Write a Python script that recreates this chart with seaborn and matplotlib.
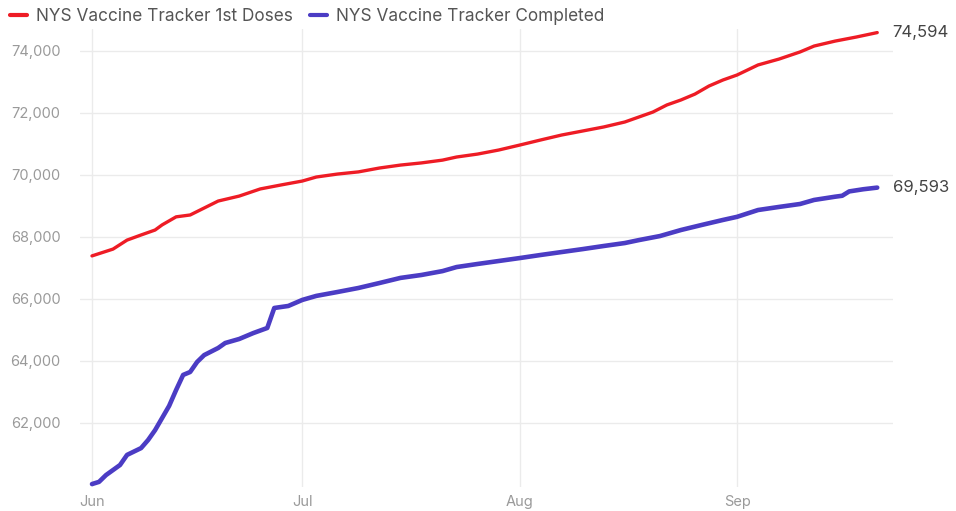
import matplotlib
matplotlib.use("Agg")
import matplotlib.pyplot as plt
import matplotlib.dates as mdates
import seaborn as sns
import pandas as pd
import numpy as np
from matplotlib.lines import Line2D

first_dates = ["2021-06-01", "2021-06-04", "2021-06-06", "2021-06-08", "2021-06-10", "2021-06-11",
               "2021-06-13", "2021-06-15", "2021-06-17", "2021-06-19", "2021-06-22", "2021-06-25",
               "2021-06-28", "2021-07-01", "2021-07-03", "2021-07-06", "2021-07-09", "2021-07-12",
               "2021-07-15", "2021-07-18", "2021-07-21", "2021-07-23", "2021-07-26", "2021-07-29",
               "2021-08-01", "2021-08-04", "2021-08-07", "2021-08-10", "2021-08-13", "2021-08-16",
               "2021-08-18", "2021-08-20", "2021-08-22", "2021-08-24", "2021-08-26", "2021-08-28",
               "2021-08-30", "2021-09-01", "2021-09-04", "2021-09-07", "2021-09-10", "2021-09-12",
               "2021-09-15", "2021-09-18", "2021-09-21"]
first_doses = [67390, 67610, 67900, 68065, 68225, 68390,
               68650, 68710, 68935, 69160, 69320, 69550,
               69680, 69805, 69935, 70030, 70100, 70225,
               70320, 70390, 70480, 70580, 70675, 70805,
               70965, 71130, 71290, 71420, 71550, 71710,
               71870, 72030, 72260, 72420, 72610, 72870,
               73065, 73225, 73550, 73740, 73970, 74160,
               74320, 74450, 74594]

comp_dates = ["2021-06-01", "2021-06-02", "2021-06-03", "2021-06-05", "2021-06-06", "2021-06-08",
              "2021-06-09", "2021-06-10", "2021-06-11", "2021-06-12", "2021-06-13", "2021-06-14",
              "2021-06-15", "2021-06-16", "2021-06-17", "2021-06-19", "2021-06-20", "2021-06-22",
              "2021-06-24", "2021-06-26", "2021-06-27", "2021-06-29", "2021-07-01", "2021-07-03",
              "2021-07-06", "2021-07-09", "2021-07-12", "2021-07-15", "2021-07-18", "2021-07-21",
              "2021-07-23", "2021-07-26", "2021-07-29", "2021-08-01", "2021-08-04", "2021-08-07",
              "2021-08-10", "2021-08-13", "2021-08-16", "2021-08-18", "2021-08-21", "2021-08-24",
              "2021-08-27", "2021-08-30", "2021-09-01", "2021-09-04", "2021-09-07", "2021-09-10",
              "2021-09-12", "2021-09-15", "2021-09-16", "2021-09-17", "2021-09-19", "2021-09-21"]
completed = [60030, 60100, 60320, 60645, 60970, 61190,
             61450, 61770, 62160, 62550, 63065, 63550,
             63645, 63970, 64190, 64420, 64580, 64710,
             64900, 65065, 65710, 65775, 65970, 66100,
             66225, 66355, 66515, 66680, 66775, 66900,
             67030, 67130, 67225, 67320, 67420, 67515,
             67610, 67710, 67805, 67900, 68030, 68225,
             68390, 68550, 68650, 68870, 68970, 69065,
             69195, 69300, 69330, 69470, 69540, 69593]

series_names = ["NYS Vaccine Tracker 1st Doses", "NYS Vaccine Tracker Completed"]
series_colors = ["#ee1c25", "#4b3cc4"]
y_ticks = [62000, 64000, 66000, 68000, 70000, 72000, 74000]
month_ticks = ["2021-06-01", "2021-07-01", "2021-08-01", "2021-09-01"]
month_labels = ["Jun", "Jul", "Aug", "Sep"]

df = pd.concat([
    pd.DataFrame({"date": pd.to_datetime(first_dates), "value": first_doses, "series": series_names[0]}),
    pd.DataFrame({"date": pd.to_datetime(comp_dates), "value": completed, "series": series_names[1]}),
])

sns.set_style("white")
plt.rcParams["font.family"] = ["Inter", "DejaVu Sans"]

fig = plt.figure(figsize=(9.56, 5.11), dpi=100)
ax = fig.add_axes([80 / 956, 1 - 487 / 511, (893 - 80) / 956, (487 - 29.3) / 511])

sns.lineplot(data=df, x="date", y="value", hue="series", palette=series_colors,
             hue_order=series_names, ax=ax, legend=False)
lws = [2.4, 3.3]
for line, lw in zip(ax.get_lines(), lws):
    line.set_linewidth(lw)
    line.set_solid_capstyle("round")
    line.set_solid_joinstyle("round")

start = mdates.date2num(pd.Timestamp("2021-06-01"))
ax.set_xlim(start - 1.71, start + 114.25)
ax.set_ylim(59935, 74700)

ax.set_yticks(y_ticks)
ax.set_yticklabels([f"{v:,}" for v in y_ticks])
ax.set_xticks(mdates.date2num(pd.to_datetime(month_ticks)))
ax.set_xticklabels(month_labels)

ax.grid(True, color="#ebebeb", linewidth=1)
for s in ax.spines.values():
    s.set_visible(False)
ax.tick_params(axis="y", length=0, pad=14, labelsize=10.5, labelcolor="#9a9a9a")
ax.tick_params(axis="x", length=0, pad=6, labelsize=10.5, labelcolor="#9a9a9a")
ax.set_xlabel("")
ax.set_ylabel("")

# end labels
last_x = mdates.date2num(pd.Timestamp(first_dates[-1]))
ax.annotate(f"{first_doses[-1]:,}", (last_x, first_doses[-1]), xytext=(11, 0),
            textcoords="offset points", va="center", ha="left", fontsize=12,
            color="#444444", annotation_clip=False)
ax.annotate(f"{completed[-1]:,}", (last_x, completed[-1]), xytext=(11, 0),
            textcoords="offset points", va="center", ha="left", fontsize=12,
            color="#444444", annotation_clip=False)

# legend
handles = [Line2D([0], [0], color=c, lw=3) for c in series_colors]
fig.legend(handles, series_names, loc="upper left", bbox_to_anchor=(-0.006, 1.015), ncol=2,
           frameon=False, fontsize=12.4, handlelength=1.0, handletextpad=0.5,
           columnspacing=1.0, labelcolor="#555555")

fig.savefig("out.png", dpi=100)
